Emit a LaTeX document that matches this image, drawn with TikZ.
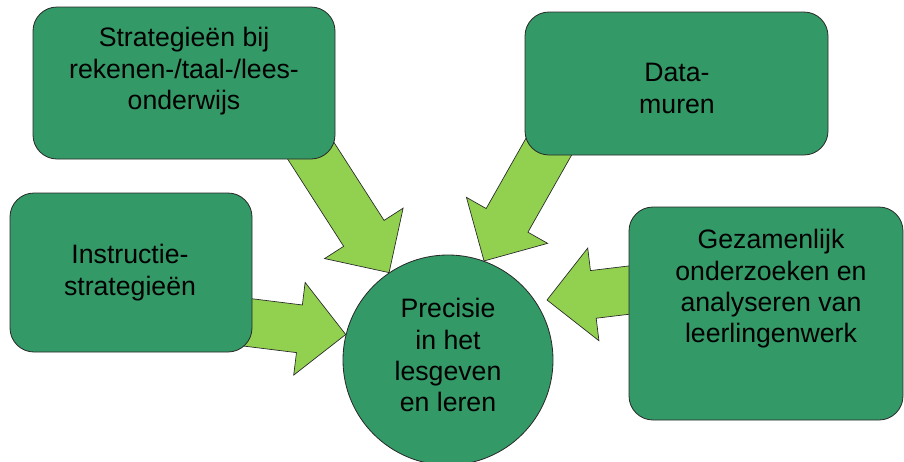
\documentclass[tikz,border=0pt]{standalone}
\usepackage{fontspec}
\setmainfont{Liberation Sans}
\usepackage{xcolor}
\usetikzlibrary{calc, positioning, backgrounds}
\definecolor{boxgreen}{RGB}{51, 153, 102}
\definecolor{arrowgreen}{RGB}{146, 208, 80}
\definecolor{edgegray}{RGB}{40, 40, 40}

% block arrow from a start point to its tip
\newcommand{\blockarrow}[2]{%
  \coordinate (bh) at ($(#2)!35pt!(#1)$);
  \filldraw[arrowblock] ($(#1)!18pt!90:(#2)$) -- ($(bh)!18pt!90:(#2)$) -- ($(bh)!35pt!90:(#2)$) -- (#2)
    -- ($(bh)!35pt!-90:(#2)$) -- ($(bh)!18pt!-90:(#2)$) -- ($(#1)!18pt!-90:(#2)$) -- cycle;
}

\begin{document}
\begin{tikzpicture}[x=0.75pt, y=-0.75pt,
    card/.style={draw=edgegray, fill=boxgreen, line width=0.6pt, rounded corners=18pt, inner sep=0pt},
    hub/.style={circle, draw=edgegray, fill=boxgreen, line width=0.6pt, minimum size=157.5pt, inner sep=0pt},
    lbl/.style={font=\fontsize{20}{23.6}\selectfont, align=center, inner sep=0pt, anchor=north},
    arrowblock/.style={fill=arrowgreen, draw=edgegray, line width=0.5pt, line join=miter}]
    \useasboundingbox (0,0) rectangle (904,461);

    % The four boxes
    \node[card, minimum width=226.5pt, minimum height=114pt] (strat) at (184,83) {};
    \node[card, minimum width=227.25pt, minimum height=107.25pt] (data) at (676.5,83.5) {};
    \node[card, minimum width=181.5pt, minimum height=119.25pt] (instr) at (131,272.5) {};
    \node[card, minimum width=205.5pt, minimum height=159.75pt] (gezam) at (766,313.5) {};

    % The centre
    \node[hub] (prec) at (448,360) {};

    % Texts
    \node[lbl] (stratlbl) at (184,27) {Strategieën bij\\rekenen-/taal-/lees-\\onderwijs};
    \node[lbl] (datalbl) at (677,63) {Data-\\muren};
    \node[lbl] (instrlbl) at (130,244) {Instructie-\\strategieën};
    \node[lbl] (gezamlbl) at (771,229) {Gezamenlijk\\onderzoeken en\\analyseren van\\leerlingenwerk};
    \node[lbl] (preclbl) at (448,298) {Precisie\\in het\\lesgeven\\en leren};

    % Arrow ends
    \coordinate (strat-s) at (302,137);
    \coordinate (data-s) at (569,111);
    \coordinate (instr-s) at (196,316);
    \coordinate (gezam-s) at (696,282);
    \coordinate (gezam-t) at (547,300);

    % The arrows, under the boxes
    \begin{scope}[on background layer]
        \blockarrow{strat-s}{prec.124}
        \blockarrow{data-s}{prec.70}
        \blockarrow{instr-s}{prec.166}
        \blockarrow{gezam-s}{gezam-t}
    \end{scope}
\end{tikzpicture}
\end{document}
